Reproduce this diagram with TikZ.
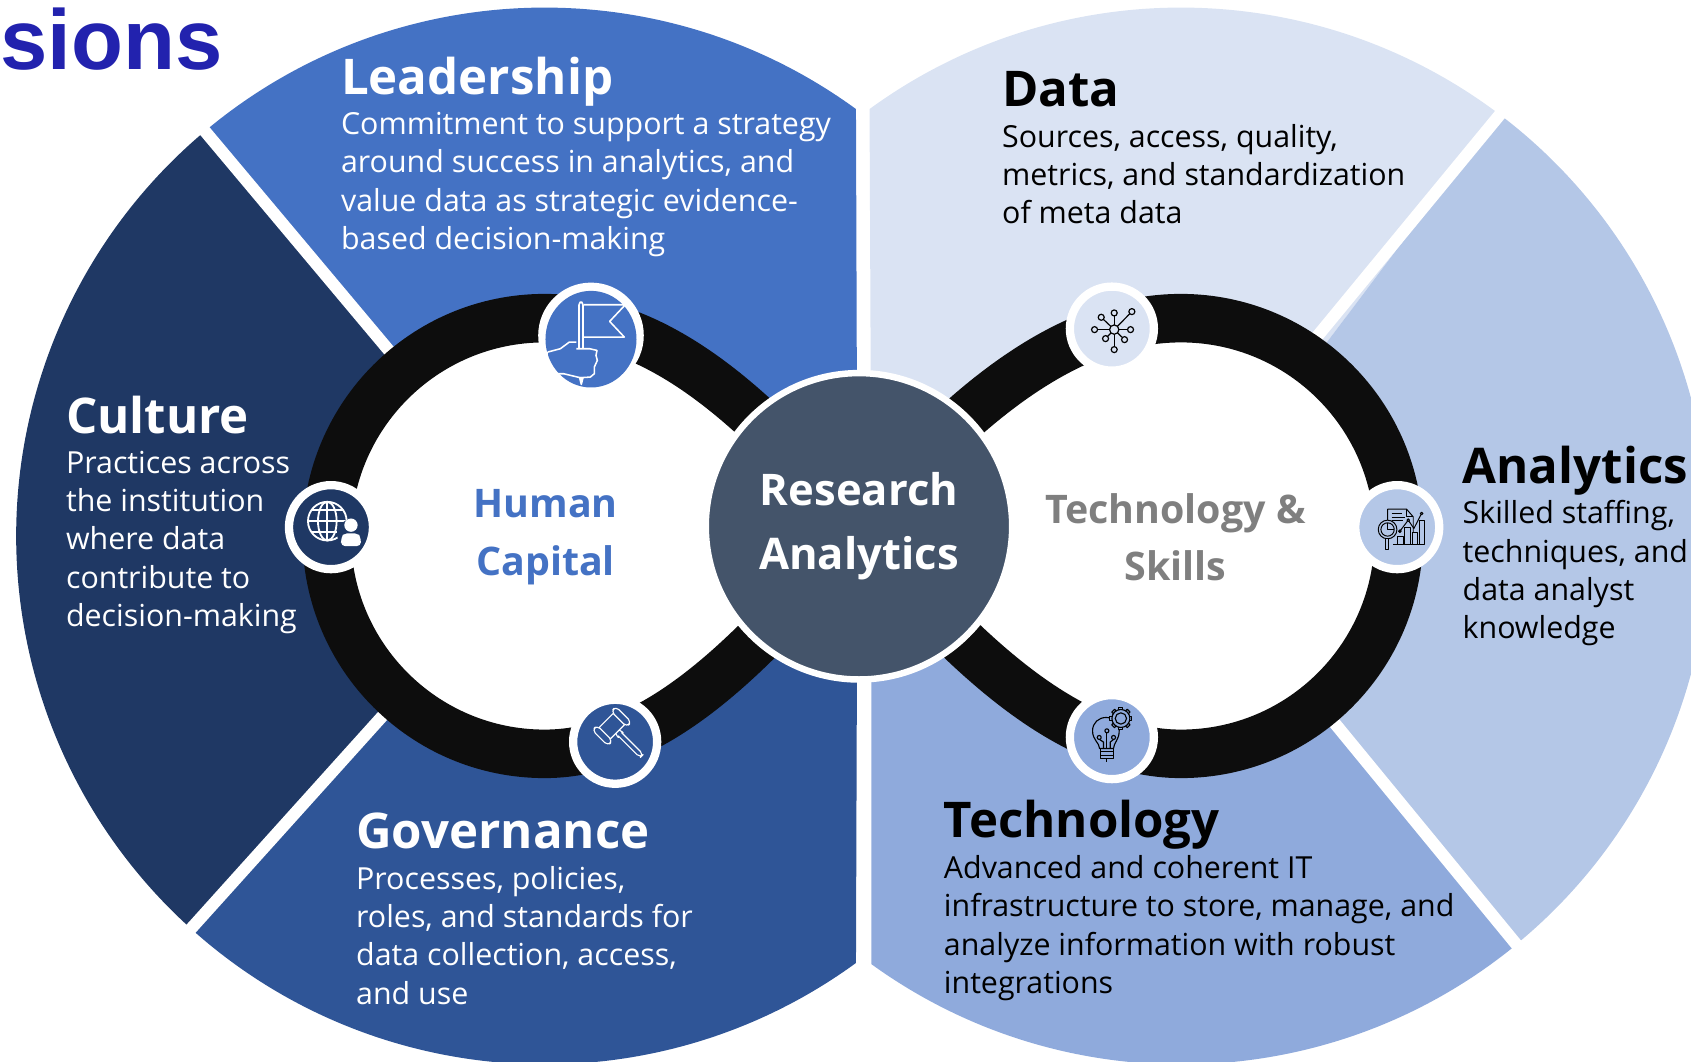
\documentclass[tikz,border=0pt]{standalone}
\usepackage{fontspec}
\setmainfont{Open Sans}
\newfontfamily\arialfont{Liberation Sans}
\usetikzlibrary{
        positioning,
        shapes.geometric
    }
\definecolor{leadblue}{HTML}{4472C4}
\definecolor{cultblue}{HTML}{1F3864}
\definecolor{govblue}{HTML}{2F5597}
\definecolor{datablue}{HTML}{DAE3F3}
\definecolor{analblue}{HTML}{B4C7E7}
\definecolor{techblue}{HTML}{8FAADC}
\definecolor{hubgray}{HTML}{44546A}
\definecolor{loopblack}{HTML}{0D0D0D}
\definecolor{skillgray}{HTML}{7F7F7F}
\definecolor{cornerblue}{HTML}{2222AE}
\tikzset{
    headtext/.style={inner sep=0pt,anchor=base west,font=\fontsize{35}{40}\selectfont\bfseries},
    bodytext/.style={inner sep=0pt,align=left,font=\fontsize{21.6}{27.2}\selectfont},
    sidetext/.style={inner sep=0pt,align=center,font=\fontsize{28}{41}\selectfont\bfseries},
    iconsmall/.style={circle,draw=white,line width=5.9pt,minimum size=2.1cm,inner sep=0pt},
    iconunit/.style={x=0.008333cm,y=-0.008333cm},
    gapline/.style={white,line width=8.6pt}
}

\begin{document}
\begin{tikzpicture}[x=0.02696cm,y=0.02696cm]
    \useasboundingbox (0,0) rectangle (1568,-984);
    \clip (0,0) rectangle (1568,-984);
    \coordinate (lc) at (505,-497);
    \coordinate (rc) at (1095,-497);
    % sectors
    \fill[leadblue] (lc) -- ++(130:490) arc[start angle=130,end angle=53.9,radius=490] -- (795,-497) -- cycle;
    \fill[cultblue] (lc) -- ++(130:490) arc[start angle=130,end angle=228,radius=490] -- cycle;
    \fill[govblue] (lc) -- ++(228:490) arc[start angle=228,end angle=306.1,radius=490] -- (795,-497) -- cycle;
    \fill[datablue] (rc) -- ++(53:490) arc[start angle=53,end angle=126.1,radius=490] -- (808,-497) -- cycle;
    \fill[analblue] (rc) -- ++(-50.6:490) arc[start angle=-50.6,end angle=53,radius=490] -- cycle;
    \fill[techblue] (808,-497) -- (808,-894) arc[start angle=234.1,end angle=309.4,radius=490] -- (rc) -- cycle;
    % gaps
    \draw[gapline] (lc) -- ++(130:510);
    \draw[gapline] (lc) -- ++(228:510);
    \draw[gapline] (1405,-89) -- (1190,-350);
    \fill[analblue] (1240,-313) -- (1400,-120) -- (1400,-497) -- (1240,-497) -- cycle;
    \draw[gapline] (rc) -- ++(-50.6:510);
    % loops
    \draw[fill=white,draw=loopblack,line width=34.5pt]
        (796,-490) .. controls (700,-375) and (610,-295) .. (505,-295)
        arc[start angle=90,end angle=270,radius=202]
        .. controls (610,-699) and (700,-605) .. (796,-490);
    \draw[fill=white,draw=loopblack,line width=34.5pt]
        (796,-490) .. controls (892,-375) and (990,-295) .. (1095,-295)
        arc[start angle=90,end angle=-90,radius=202]
        .. controls (990,-699) and (892,-605) .. (796,-490);
    % hub
    \node[circle,fill=hubgray,draw=white,line width=4.6pt,minimum size=7.66cm,inner sep=0pt,
        text=white,align=center,font=\fontsize{31}{46}\selectfont\bfseries] (hub) at (796.5,-488) {Research\\ Analytics};
    \node[sidetext,text=leadblue] (human) at (506,-498) {Human\\ Capital};
    \node[sidetext,text=skillgray] (skills) at (1090,-498) {Technology \&\\ Skills};
    % icon discs
    \node[circle,fill=white,minimum size=2.64cm,inner sep=0pt] (flag) at (548,-311) {};
    \fill[leadblue] (548,-314.5) ellipse (42.2 and 44.8);
    \node[iconsmall,fill=datablue] (network) at (1031,-304.7) {};
    \node[iconsmall,fill=cultblue] (globe) at (306.9,-488.8) {};
    \node[iconsmall,fill=analblue] (chart) at (1295.6,-488.8) {};
    \node[iconsmall,fill=govblue] (gavel) at (570.4,-687.8) {};
    \node[iconsmall,fill=techblue] (bulb) at (1031,-683.5) {};
    % flag icon
    \begin{scope}[shift={(flag)},iconunit,shift={(-272,-225)},white,line width=1.1pt,line join=round]
        \draw[rounded corners=2pt] (236,265) -- (236,125) -- (248,125) -- (248,265);
        \draw (250,133) -- (375,133) -- (328,183) -- (372,230) -- (250,230);
        \draw[line width=.8pt] (142,275) -- (142,340);
        \draw (142,275) -- (180,265) -- (207,245) -- (228,245);
        \draw (228,265) -- (268,265) -- (290,270) -- (287,285) -- (291,300) -- (282,320) -- (282,340) -- (270,350) -- (240,352) -- (190,340) -- (142,340);
        \draw[fill=white] (238,352) -- (243,372) -- (248,352) -- cycle;
    \end{scope}
    % network icon
    \begin{scope}[shift={(network)},iconunit,shift={(-215,-175)},black,line width=.85pt]
        \foreach \px/\py in {222/128,275/124,183/141,163/178,271/178,196/205,253/208,222/238}{
            \draw (222,178) -- (\px,\py);
            \draw[fill=datablue] (\px,\py) circle (9);
        }
        \draw[fill=datablue] (222,178) circle (14);
    \end{scope}
    % globe icon
    \begin{scope}[shift={(globe)},iconunit,shift={(-183,-171)},white,line width=1.3pt]
        \draw (172,153) circle (58);
        \draw (172,153) ellipse (28 and 58);
        \draw (172,95) -- (172,211);
        \draw (114,153) -- (230,153);
        \draw (124,120) -- (220,120);
        \draw (124,186) -- (220,186);
        \fill[cultblue] (243,190) circle (42);
        \fill (243,165) circle (20);
        \fill[rounded corners=3pt] (213,228) -- (213,205) .. controls (218,195) and (230,190) .. (243,190) .. controls (256,190) and (268,195) .. (273,205) -- (273,228) -- cycle;
    \end{scope}
    % chart icon
    \begin{scope}[shift={(chart)},iconunit,shift={(-172,-171)},black,line width=.7pt,line join=round]
        \draw (143,150) -- (143,117) -- (200,117) -- (220,140) -- (220,188);
        \draw (200,117) -- (200,140) -- (220,140);
        \draw (155,130) -- (185,130) (155,141) -- (195,141) (155,152) -- (190,152);
        \draw (173,222) rectangle (190,200);
        \draw (195,222) rectangle (213,172);
        \draw (218,222) rectangle (233,188);
        \draw (238,222) rectangle (253,150);
        \draw (160,222) -- (253,222);
        \draw (180,183) -- (205,150) -- (222,175) -- (245,130);
        \draw[fill=black] (180,183) circle (4);
        \draw[fill=analblue] (205,150) circle (4);
        \draw[fill=analblue] (245,130) circle (4);
        \draw[fill=analblue] (143,178) circle (28);
        \draw (143,178) circle (20);
        \draw (143,158) -- (143,178) -- (163,178);
        \draw[fill=analblue] (136,206) rectangle (146,238);
    \end{scope}
    % gavel icon
    \begin{scope}[shift={(gavel)},iconunit,shift={(-165,-185)},white,line width=.8pt,line join=round]
        \begin{scope}[shift={(155,138)},rotate=-45]
            \draw (24,-7) -- (34,-10) -- (38,-10) -- (38,-7);
            \draw (24,7) -- (34,10) -- (38,10) -- (38,7);
            \draw[rounded corners=3pt] (34,-7) -- (127,-7) -- (127,7) -- (34,7);
            \draw (-24,-30) rectangle (24,30);
            \draw[fill=govblue,rounded corners=3pt] (-33,-50) rectangle (33,-30);
            \draw[fill=govblue,rounded corners=3pt] (-33,30) rectangle (33,50);
        \end{scope}
    \end{scope}
    % bulb icon
    \begin{scope}[shift={(bulb)},iconunit,shift={(-185,-171)},black,line width=.8pt,line join=round]
        \draw (148,205) .. controls (148,188) and (127,180) .. (127,152) .. controls (127,128) and (145,112) .. (168,112) .. controls (190,112) and (207,130) .. (207,152) .. controls (207,180) and (190,188) .. (190,205) -- cycle;
        \draw (150,205) rectangle (190,235);
        \draw (150,215) -- (190,215) (150,225) -- (190,225);
        \draw (168,235) -- (168,245);
        \draw (170,205) -- (170,158);
        \draw (160,205) -- (160,186) -- (148,178);
        \draw (180,205) -- (180,186) -- (190,178);
        \foreach \px/\py in {170/152,147/172,190/172}{
            \draw[fill=techblue] (\px,\py) circle (6);
        }
        \foreach \a in {0,45,...,315}{
            \draw[fill=techblue,shift={(212,115)},rotate=\a] (26,-6) rectangle (33,6);
        }
        \draw[fill=techblue] (212,115) circle (27);
        \draw[fill=techblue] (212,115) circle (17);
    \end{scope}
    % texts
    \node[inner sep=0pt,anchor=base west,text=cornerblue,font=\fontsize{60.5}{60}\selectfont\arialfont\bfseries] (sions) at (0,-64) {sions};
    \node[headtext,text=white] (leadership) at (316,-88) {Leadership};
    \node[bodytext,text=white,below=16 of leadership.base west,anchor=north west] (leadtext) {Commitment to support a strategy\\ around success in analytics, and\\ value data as strategic evidence-\\ based decision-making};
    \node[headtext,text=white] (culture) at (61,-402) {Culture};
    \node[bodytext,text=white,below=16 of culture.base west,anchor=north west] (culttext) {Practices across\\ the institution\\ where data\\ contribute to\\ decision-making};
    \node[headtext,text=white] (governance) at (330,-787) {Governance};
    \node[bodytext,text=white,below=16 of governance.base west,anchor=north west] (govtext) {Processes, policies,\\ roles, and standards for\\ data collection, access,\\ and use};
    \node[headtext,text=black] (data) at (929,-99) {Data};
    \node[bodytext,text=black,below=16 of data.base west,anchor=north west] (datatext) {Sources, access, quality,\\ metrics, and standardization\\ of meta data};
    \node[headtext,text=black] (analytics) at (1356,-448) {Analytics};
    \node[bodytext,text=black,below=16 of analytics.base west,anchor=north west] (analtext) {Skilled staffing,\\ techniques, and\\ data analyst\\ knowledge};
    \node[headtext,text=black] (technology) at (875,-777) {Technology};
    \node[bodytext,text=black,below=16 of technology.base west,anchor=north west] (techtext) {Advanced and coherent IT\\ infrastructure to store, manage, and\\ analyze information with robust\\ integrations};
\end{tikzpicture}
\end{document}
